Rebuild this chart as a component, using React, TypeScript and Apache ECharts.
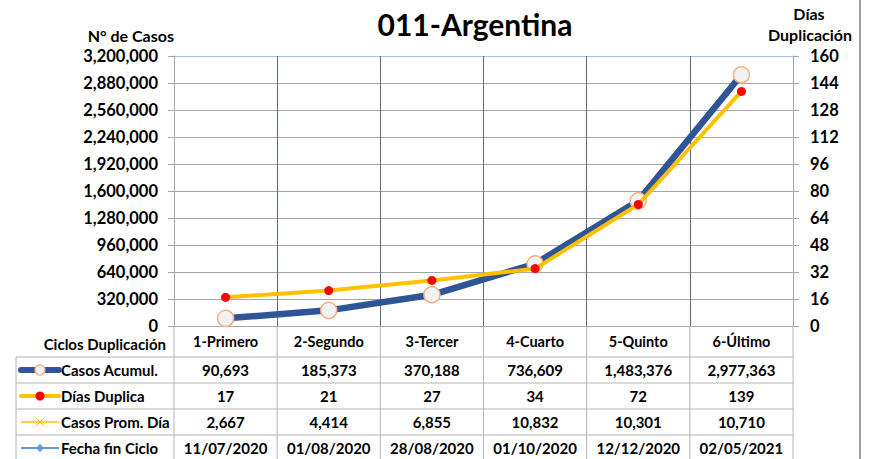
import React, { useEffect, useRef } from "react";
import * as echarts from "echarts";

const TITLE = "011-Argentina";
const categories = ["1-Primero", "2-Segundo", "3-Tercer", "4-Cuarto", "5-Quinto", "6-Último"];
const casosAcumul = [90693, 185373, 370188, 736609, 1483376, 2977363];
const diasDuplica = [17, 21, 27, 34, 72, 139];
const casosPromDia = [2667, 4414, 6855, 10832, 10301, 10710];
const fechaFinCiclo = ["11/07/2020", "01/08/2020", "28/08/2020", "01/10/2020", "12/12/2020", "02/05/2021"];
const rowNames = ["Casos Acumul.", "Días Duplica", "Casos Prom. Día", "Fecha fin Ciclo"];

const FONT = 'Lato, "Open Sans", "DejaVu Sans", sans-serif';
const BLUE = "#2f5597";
const YELLOW = "#ffc000";
const GRID_GRAY = "#a6a6a6";
const fmt = (v: number) => v.toLocaleString("en-US");

export default function App() {
  const ref = useRef<HTMLDivElement>(null);
  useEffect(() => {
    if (!ref.current) return;
    const chart = echarts.init(ref.current, null, { renderer: "svg" });
    const splitColors = Array.from({ length: 11 }, (_, i) => (i === 10 ? "#9dc3e6" : GRID_GRAY));
    chart.setOption({
      animation: false,
      backgroundColor: "#ffffff",
      title: {
        text: TITLE,
        left: 470,
        top: 4,
        textAlign: "center",
        textStyle: { fontFamily: FONT, fontWeight: "bold", fontSize: 30, color: "#000" },
      },
      grid: { left: 174, right: 78, top: 56, bottom: 133 },
      xAxis: {
        type: "category",
        data: categories,
        boundaryGap: true,
        axisLine: { show: true, lineStyle: { color: GRID_GRAY, width: 1 } },
        axisTick: { show: false },
        axisLabel: { margin: 8, fontFamily: FONT, fontWeight: "bold", fontSize: 14.5, color: "#000", interval: 0 },
        splitLine: { show: true, lineStyle: { color: "#5c6b80", width: 1 } },
      },
      yAxis: [
        {
          type: "value",
          min: 0,
          max: 3200000,
          interval: 320000,
          axisLine: { show: true, lineStyle: { color: GRID_GRAY } },
          axisTick: { show: true, length: 6, lineStyle: { color: GRID_GRAY } },
          axisLabel: { margin: 16, fontFamily: FONT, fontWeight: "bold", fontSize: 16.5, color: "#000", formatter: (v: number) => fmt(v) },
          splitLine: { show: true, lineStyle: { color: splitColors, width: 1 } },
        },
        {
          type: "value",
          min: 0,
          max: 160,
          interval: 16,
          position: "right",
          axisLine: { show: true, lineStyle: { color: GRID_GRAY } },
          axisTick: { show: true, length: 6, lineStyle: { color: GRID_GRAY } },
          axisLabel: { margin: 17, fontFamily: FONT, fontWeight: "bold", fontSize: 16.5, color: "#000" },
          splitLine: { show: false },
        },
      ],
      series: [
        {
          name: rowNames[0],
          type: "line",
          data: casosAcumul,
          yAxisIndex: 0,
          symbol: "circle",
          symbolSize: 16,
          lineStyle: { color: BLUE, width: 6.5 },
          itemStyle: { color: "#f2f2f2", borderColor: "#f4b183", borderWidth: 1.5 },
          z: 2,
        },
        {
          name: rowNames[1],
          type: "line",
          data: diasDuplica,
          yAxisIndex: 1,
          symbol: "circle",
          symbolSize: 9,
          lineStyle: { color: YELLOW, width: 4 },
          itemStyle: { color: "#ff0000", borderWidth: 0 },
          z: 3,
        },
      ],
    });

    const cx = categories.map((c, i) => chart.convertToPixel({ xAxisIndex: 0 }, i) as number);
    const band = cx.length > 1 ? cx[1] - cx[0] : 100;
    const leftEdge = cx[0] - band / 2;
    const rightEdge = cx[cx.length - 1] + band / 2;
    const yBottom = chart.convertToPixel({ yAxisIndex: 0 }, 0) as number;
    const tableLeft = 16;
    const headerBottom = yBottom + 31;
    const rowH = 26;
    const tableBottom = headerBottom + rowH * 4;
    const lineColor = "#b4b4b4";

    const g: any[] = [];
    for (let r = 0; r <= 4; r++) {
      const y = headerBottom + r * rowH;
      g.push({ type: "line", shape: { x1: tableLeft, y1: y, x2: rightEdge, y2: y }, style: { stroke: lineColor, lineWidth: 1 }, silent: true });
    }
    g.push({ type: "line", shape: { x1: tableLeft, y1: headerBottom, x2: tableLeft, y2: tableBottom }, style: { stroke: lineColor, lineWidth: 1 } });
    for (let i = 0; i <= categories.length; i++) {
      const x = leftEdge + i * band;
      g.push({ type: "line", shape: { x1: x, y1: yBottom, x2: x, y2: tableBottom }, style: { stroke: lineColor, lineWidth: 1 } });
    }
    g.push({ type: "line", shape: { x1: 860, y1: 0, x2: 860, y2: 459 }, style: { stroke: "#a0a0a0", lineWidth: 2 } });

    g.push({
      type: "text",
      style: { text: "Ciclos Duplicación", x: 166, y: (yBottom + headerBottom) / 2 + 2, align: "right", verticalAlign: "middle", font: `bold 15px ${FONT}`, fill: "#000" },
    });
    g.push({ type: "text", style: { text: "N° de Casos", x: 174, y: 35, align: "right", verticalAlign: "middle", font: `bold 16px ${FONT}`, fill: "#000" } });
    g.push({ type: "text", style: { text: "Días", x: 809, y: 13, align: "center", verticalAlign: "middle", font: `bold 16px ${FONT}`, fill: "#000" } });
    g.push({ type: "text", style: { text: "Duplicación", x: 810, y: 34, align: "center", verticalAlign: "middle", font: `bold 16px ${FONT}`, fill: "#000" } });

    const rows: string[][] = [
      casosAcumul.map(fmt),
      diasDuplica.map(String),
      casosPromDia.map(fmt),
      fechaFinCiclo,
    ];
    rows.forEach((vals, r) => {
      const yc = headerBottom + r * rowH + rowH / 2;
      vals.forEach((v, i) => {
        g.push({ type: "text", style: { text: v, x: cx[i], y: yc, align: "center", verticalAlign: "middle", font: `bold 15px ${FONT}`, fill: "#000" } });
      });
      g.push({ type: "text", style: { text: rowNames[r], x: 61, y: yc, align: "left", verticalAlign: "middle", font: `bold 15px ${FONT}`, fill: "#000" } });
      if (r === 0) {
        g.push({ type: "line", shape: { x1: 21, y1: yc, x2: 59, y2: yc }, style: { stroke: BLUE, lineWidth: 6, lineCap: "round" } });
        g.push({ type: "circle", shape: { cx: 40, cy: yc, r: 5 }, style: { fill: "#f2f2f2", stroke: "#f4b183", lineWidth: 1.5 } });
      } else if (r === 1) {
        g.push({ type: "line", shape: { x1: 21, y1: yc, x2: 59, y2: yc }, style: { stroke: YELLOW, lineWidth: 4, lineCap: "round" } });
        g.push({ type: "circle", shape: { cx: 40, cy: yc, r: 4.5 }, style: { fill: "#ff0000" } });
      } else if (r === 2) {
        g.push({ type: "line", shape: { x1: 21, y1: yc, x2: 59, y2: yc }, style: { stroke: YELLOW, lineWidth: 1.5 } });
        g.push({ type: "line", shape: { x1: 36, y1: yc - 4, x2: 44, y2: yc + 4 }, style: { stroke: YELLOW, lineWidth: 1 } });
        g.push({ type: "line", shape: { x1: 36, y1: yc + 4, x2: 44, y2: yc - 4 }, style: { stroke: YELLOW, lineWidth: 1 } });
      } else {
        g.push({ type: "line", shape: { x1: 21, y1: yc, x2: 59, y2: yc }, style: { stroke: "#5b9bd5", lineWidth: 2 } });
        g.push({ type: "polygon", shape: { points: [[40, yc - 4], [44, yc], [40, yc + 4], [36, yc]] }, style: { fill: "#5b9bd5" } });
      }
    });

    chart.setOption({ graphic: g });
    return () => chart.dispose();
  }, []);
  return <div ref={ref} style={{ position: "fixed", left: 0, top: 0, width: 871, height: 459 }} />;
}
